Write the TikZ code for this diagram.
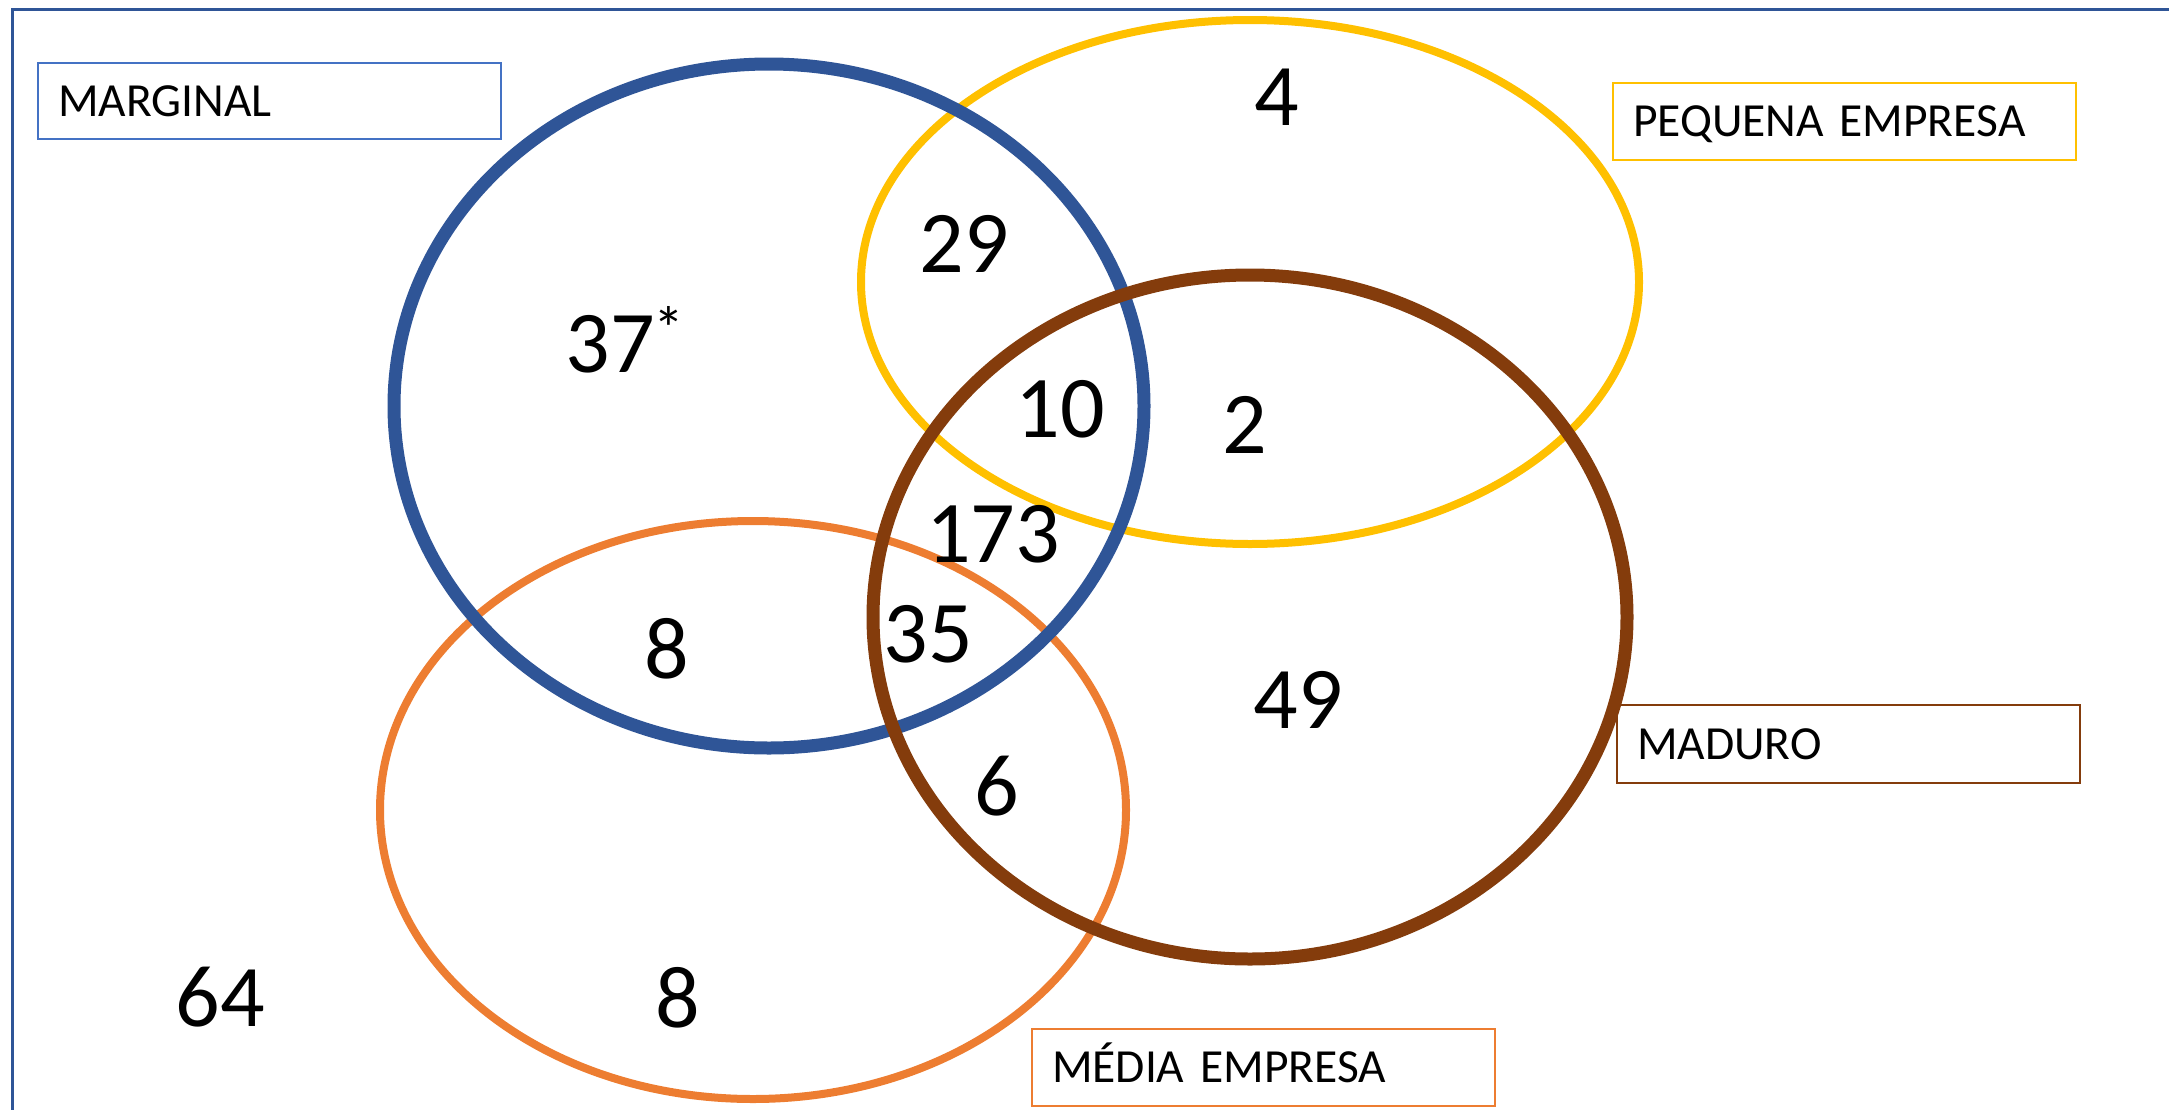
\documentclass[tikz,border=0pt]{standalone}
\usepackage{fontspec}
\setmainfont{Carlito}
\definecolor{frameblue}{HTML}{2F5597}
\definecolor{margblue}{HTML}{2F5597}
\definecolor{margbox}{HTML}{4472C4}
\definecolor{peqyellow}{HTML}{FFC000}
\definecolor{madbrown}{HTML}{843C0C}
\definecolor{medorange}{HTML}{ED7D31}
\begin{document}
\begin{tikzpicture}[x=1pt,y=-1pt,
  num/.style={font=\fontsize{88}{100}\selectfont, anchor=base, inner sep=0pt},
  tag/.style={draw=#1, line width=2pt, anchor=north west, inner xsep=20pt, inner ysep=0pt,
    text height=30pt, text depth=0pt, align=left, text width=423pt,
    font=\fontsize{47.5}{50}\selectfont, text=black},
  set/.style={line width=#1}
]
\useasboundingbox (0,0) rectangle (2169,1109);

% outer frame (open to the right and bottom)
\coordinate (fb) at (12,1115);
\coordinate (fc) at (12,9);
\coordinate (fr) at (2175,9);
\draw[frameblue, line width=3pt] (fb) -- (fc) -- (fr);

% set centres
\coordinate (cP) at (1250,282);
\coordinate (cM) at (753,810);
\coordinate (cG) at (769,406);
\coordinate (cD) at (1250,617);

% the four sets
\draw[peqyellow, set=8pt] (cP) ellipse [x radius=389, y radius=262];
\draw[medorange, set=8pt] (cM) ellipse [x radius=373, y radius=289];
\draw[margblue, set=13pt] (cG) ellipse [x radius=375, y radius=342];
\draw[madbrown, set=13pt] (cD) ellipse [x radius=377, y radius=342];

% legend boxes
\node[tag=margbox, minimum height=76pt] (lgMarg) at (37,62) {MARGINAL};
\node[tag=peqyellow, minimum height=77pt] (lgPeq) at (1612,82) {PEQUENA EMPRESA};
\node[tag=madbrown, minimum height=78pt] (lgMad) at (1616,704) {MADURO};
\node[tag=medorange, minimum height=77pt] (lgMed) at (1031,1028) {MÉDIA EMPRESA};

% region counts
\node[num] (n4)   at (1277,125) {4};
\node[num] (n29)  at (964,272) {29};
\node[num] (n37)  at (610,372) {37\rlap{\kern-1pt\raisebox{22pt}{\fontsize{62}{62}\selectfont *}}};
\node[num] (n10)  at (1060,437) {10};
\node[num] (n2)   at (1245,453) {2};
\node[num] (n173) at (993,562) {173};
\node[num] (n35)  at (928,662) {35};
\node[num] (n8a)  at (667,678) {8};
\node[num] (n49)  at (1298,728) {49};
\node[num] (n6)   at (997,815) {6};
\node[num] (n64)  at (220,1026) {64};
\node[num] (n8b)  at (678,1027) {8};
\end{tikzpicture}
\end{document}
